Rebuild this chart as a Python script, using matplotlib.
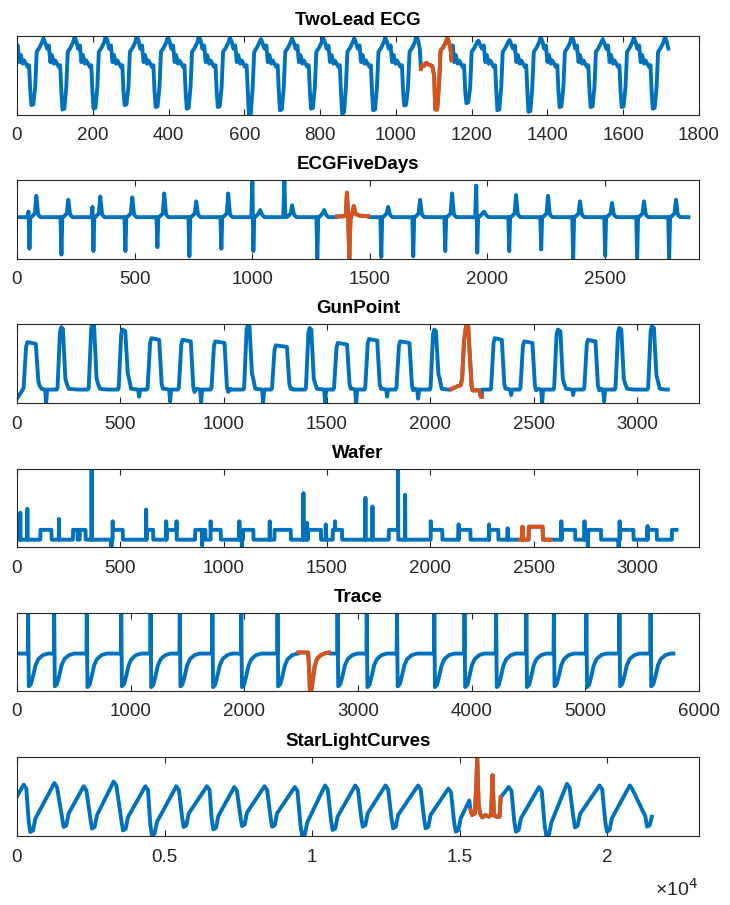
import numpy as np
import matplotlib
matplotlib.use("Agg")
import matplotlib.pyplot as plt

plt.rcParams["font.family"] = ["Liberation Sans", "DejaVu Sans"]

BLUE = "#0072BD"
ORANGE = "#D95319"
DARK = "#262626"

# ---------------- TwoLead ECG: 21 beats of 82 samples, beat 13 highlighted
ecg_len = 82
ecg_hl = 13
ecg_off = [0, 2, 6, 10, 15, 19, 28, 32, 35, 38, 43, 48, 52, 59, 66, 70, 75, 79]
ecg_lvl = [84, 88, 67, 76, 65, 69, 61, 63, 30, 0, 0, 35, 80, 85, 92, 0, 0, 84]  # 9-10 trough, 15-16 peak
ecg_trough = [12.5, 7, 8, 12.5, 10, 8, 10, 0, 6, 8, 2, 6, 12, 7, 15, 6, 4, 10, 10, 10, 8]
ecg_peak = [97, 99, 100, 100, 99, 100, 98, 96, 97, 98, 97, 98, 100, 98, 94, 95, 99, 100, 96, 98, 99]
ecg_hl_off = [0, 4, 8, 14, 20, 30, 35, 38, 43, 48, 52, 58, 64, 70, 75, 78, 81]
ecg_hl_val = [58, 64, 62, 66, 64, 62, 50, 7, 7, 40, 82, 85, 90, 98, 90, 85, 69]
ecg_ticks = [0, 200, 400, 600, 800, 1000, 1200, 1400, 1600, 1800]

# ---------------- ECGFiveDays: 21 beats of 136 samples, beat 10 highlighted
efd_len = 136
efd_hl = 10
efd_off = [0, 44, 49, 53, 57, 64, 76, 82, 90, 100, 135]
efd_lvl = [53, 53, 0, 0, 53, 54, 58, 0, 56, 53, 53]  # idx 2 up spike, 3 down spike, 7 T wave
efd_up = [60, 53, 66, 53, 53, 53, 53, 98, 100, 53, 0, 53, 53, 53, 93, 53, 53, 53, 53, 53, 53]
efd_down = [13, 5.5, 10, 10, 15, 3.4, 13, 10, 53, 1, 0, 2.5, 3.4, 10, 8, 10, 12, 0, 4, 1, 0]
efd_t = [80, 75, 79, 78, 83, 73, 83, 62, 68, 62, 0, 66, 75, 83, 60, 81, 80, 73, 71, 73, 75]
efd_hl_off = [0, 30, 38, 43, 48, 53, 58, 64, 72, 80, 95, 135]
efd_hl_val = [54, 54, 55, 84, 54, 0, 50, 56, 67, 57, 55, 54]
efd_ticks = [0, 500, 1000, 1500, 2000, 2500]

# ---------------- GunPoint: 21 samples of 150, sample 14 highlighted
gun_len = 150
gun_hl = 14
gun_start = [5.5, 17, 17, 17, 17, 17, 17, 17, 17, 17, 17, 17, 17, 17, 17, 17, 17, 17, 17, 17, 17]
gun_rise = [32, 46, 47, 42, 32, 33, 41, 49, 34, 48, 34, 35, 36, 51, 0, 44, 36, 49, 45, 46, 54]
gun_top = [77, 96, 100, 93, 82, 80, 78, 99, 73, 95, 76, 81, 78, 93, 0, 82, 78, 93, 80, 95, 97]
gun_hold = [41, 8, 8, 14, 38, 40, 45, 8, 54, 8, 45, 40, 45, 8, 0, 34, 40, 12, 36, 10, 10]
gun_after = [22, 25, 25, 31, 18, 14, 14, 31, 18, 25, 18, 18, 16, 31, 0, 18, 16, 25, 16, 25, 29]
gun_dip = [0.4, 17, 17, 8, 2, 1, 17, 0, 17, 1, 0, 8, 5.5, 17, 0, 10, 0, 10, 2, 17, 17]
gun_hl_off = [0, 36, 47, 54, 63, 74, 83, 93, 99, 104, 138, 144, 149]
gun_hl_val = [17.5, 21.7, 22.5, 31, 78, 100, 97, 52, 22.5, 16, 16, 7.7, 7.7]
gun_ticks = [0, 500, 1000, 1500, 2000, 2500, 3000]

# ---------------- Wafer: 21 samples of 152, sample 16 highlighted
waf_len = 152
waf_hl = 16
waf_lo = 9.4
waf_hi = 22
waf_high = [
    [(0, 8), (113, 152)], [(0, 15), (119, 141)], [(0, 28)], [(7, 56)],
    [(20, 51), (116, 152)], [(0, 12), (102, 152)], [(25, 74)], [(30, 80)],
    [(30, 109)], [(40, 103)], [(8, 53)], [(127, 152)], [(0, 20)], [(26, 82)],
    [(10, 66)], [(5, 49)], [], [(52, 117)], [(28, 90)], [(30, 95)],
    [(12, 56), (129, 152)],
]
waf_spikes = [
    [(16, 44), (50, 49)], [(51, 36)], [(57, 100)], [(1, 0), (7, 33)],
    [(17, 48), (114, 33)], [(12, 33), (136, 2)], [(25, 33)], [(12, 33), (24, 0)],
    [(7, 33)], [(18, 69), (36, 31), (126, 29)], [(19, 33)], [(14, 63), (48, 52)],
    [(20, 100), (54, 67)], [(26, 33)], [(9, 29)], [(4, 29), (94, 24)], [],
    [(50, 33)], [(10, 33), (26, 0)], [(23, 0), (28, 33)], [(11, 27)],
]
waf_hl_off = [0, 12, 14, 16, 43, 45, 111, 113, 151]
waf_hl_val = [9.4, 9.4, 26, 9.4, 9.4, 26, 26, 9.4, 9.4]
waf_ticks = [0, 500, 1000, 1500, 2000, 2500, 3000]

# ---------------- Trace: 21 samples of 275, sample 9 highlighted
trc_len = 275
trc_hl = 9
trc_spike = [98, 52, 64, 92, 75, 57, 69, 48, 92, 0, 70, 52, 43, 96, 87, 90, 81, 48, 59, 75, 74]
trc_top = [99, 99, 99, 99, 99, 99, 99, 99, 99, 0, 99, 99, 99, 100, 99, 99, 99, 99, 99, 99, 99]
trc_bot = [6, 6, 5, 6, 5, 6, 5, 5, 6, 0, 6, 5, 6, 5, 5, 5, 5, 6, 5, 6, 6]
trc_hl_off = [0, 86, 94, 102, 115, 127, 143, 164, 197, 238, 270]
trc_hl_val = [49.4, 49.4, 31, 0, 1.3, 14, 31, 41, 46, 48.5, 49.4]
trc_ticks = [0, 1000, 2000, 3000, 4000, 5000, 6000]

# ---------------- StarLightCurves: 21 samples of 1024, sample 15 highlighted
star_len = 1024
star_hl = 15
star_peak_x = [226, 1264, 2258, 3274, 4347, 5397, 6435, 7360, 8384, 9409, 10433, 11458,
               12482, 13585, 14610, 16658, 17683, 18628, 19732, 20756]
star_peak_y = [65, 67, 63, 69, 63, 63, 63, 62, 63, 62, 64, 64, 64, 64, 60, 62, 62, 66, 64, 64]
star_trough_x = [452, 1580, 2540, 3590, 4572, 5645, 6650, 7620, 8640, 9660, 10690, 11710,
                 12740, 13840, 14860, 16900, 17930, 18900, 19980, 21339]
star_trough_y = [5, 11.5, 9.4, 7, 1, 11.5, 8.4, 12.6, 11.8, 0, 7.6, 11.8, 9.7, 9.7, 5.5,
                 5.5, 0, 10.9, 5.5, 11.8]
star_hl_x = [15360, 15413, 15508, 15555, 15587, 15634, 15681, 15760, 15870, 15980, 16059,
             16107, 16154, 16233, 16343, 16383]
star_hl_y = [32.8, 26.5, 28.6, 62, 100, 41, 28.6, 23.5, 26.5, 24.4, 26.5, 77, 26.5, 24.4,
             24.4, 49]
star_ticks = [0, 5000, 10000, 15000, 20000]
star_labels = ["0", "0.5", "1", "1.5", "2"]


def assemble(seg_len, segs):
    xs, ys = [], []
    for k, (off, val) in enumerate(segs):
        xs.extend(k * seg_len + np.asarray(off, float))
        ys.extend(val)
    return np.array(xs), np.array(ys, float)


def ecg_seg(k):
    if k == ecg_hl:
        return ecg_hl_off, ecg_hl_val
    v = list(ecg_lvl)
    v[9], v[10] = ecg_trough[k], ecg_trough[k] + 1
    v[15], v[16] = ecg_peak[k], ecg_peak[k] - 6
    return ecg_off, v


def efd_seg(k):
    if k == efd_hl:
        return efd_hl_off, efd_hl_val
    v = list(efd_lvl)
    v[2] = efd_up[k]
    v[3] = efd_down[k]
    v[7] = efd_t[k]
    return efd_off, v


def gun_seg(k):
    if k == gun_hl:
        return gun_hl_off, gun_hl_val
    rs, top, w, aft = gun_rise[k], gun_top[k], gun_hold[k], gun_after[k]
    off = [0, rs - 4, rs, rs + 12, rs + 18, rs + 18 + w, rs + 30 + w,
           rs + 36 + w, rs + 46 + w, 136, 141, 146, 149]
    val = [gun_start[k], 17, 19, top - 6, top, top - 2, aft + 6, aft, 18,
           17, gun_dip[k], 17, 17]
    return off, val


def waf_seg(k):
    if k == waf_hl:
        return waf_hl_off, waf_hl_val
    ints = waf_high[k]

    def level(o):
        return waf_hi if any(a <= o < b for a, b in ints) else waf_lo

    pts = [(0, level(0))]
    for a, b in ints:
        if a > 0:
            pts += [(a - 0.5, waf_lo), (a + 0.5, waf_hi)]
        if b < 151:
            pts += [(b - 0.5, waf_hi), (b + 0.5, waf_lo)]
    for o, v in waf_spikes[k]:
        pts += [(o - 1, level(o - 1)), (o, v), (o + 1, level(o + 1))]
    pts.append((151, level(151)))
    pts.sort(key=lambda p: p[0])
    return [p[0] for p in pts], [p[1] for p in pts]


def trc_seg(k):
    if k == trc_hl:
        return trc_hl_off, trc_hl_val
    s, b = trc_spike[k], trc_bot[k]
    off = [0, s - 3, s, s + 6, s + 25, s + 45, s + 65, s + 90, s + 130, s + 175, 274]
    val = [48, 48, trc_top[k], b, b + 3, 20, 33, 41, 46, 48, 48]
    return off, val


def star_series():
    pts = [(0, 50)]
    n = len(star_peak_x)
    for i in range(n):
        px, py = star_peak_x[i], star_peak_y[i]
        tx, ty = star_trough_x[i], star_trough_y[i]
        # rounded crest, steep fall, flat-ish trough, then the slow climb
        pts += [(px, py), (px + 90, py - 5), (tx - 56, ty + 13), (tx, ty), (tx + 90, ty + 2)]
        if i < n - 1:
            pts.append((tx + 170, ty + 17))
        if i == 14:
            pts.append((15319, 45))
            pts += list(zip(star_hl_x, star_hl_y))
    pts.append((21504, 24.4))
    return np.array([p[0] for p in pts], float), np.array([p[1] for p in pts], float)


panels = [
    ("TwoLead ECG", assemble(ecg_len, [ecg_seg(k) for k in range(21)]),
     ecg_len, ecg_hl, 1800, ecg_ticks, [str(t) for t in ecg_ticks]),
    ("ECGFiveDays", assemble(efd_len, [efd_seg(k) for k in range(21)]),
     efd_len, efd_hl, 2900, efd_ticks, [str(t) for t in efd_ticks]),
    ("GunPoint", assemble(gun_len, [gun_seg(k) for k in range(21)]),
     gun_len, gun_hl, 3300, gun_ticks, [str(t) for t in gun_ticks]),
    ("Wafer", assemble(waf_len, [waf_seg(k) for k in range(21)]),
     waf_len, waf_hl, 3300, waf_ticks, [str(t) for t in waf_ticks]),
    ("Trace", assemble(trc_len, [trc_seg(k) for k in range(21)]),
     trc_len, trc_hl, 6000, trc_ticks, [str(t) for t in trc_ticks]),
    ("StarLightCurves", star_series(),
     star_len, star_hl, 23100, star_ticks, star_labels),
]

fig = plt.figure(figsize=(7.3, 9.05), dpi=100)
tops = [36, 180, 324, 469, 613, 757]
bots = [115, 259, 403, 547, 691, 836]

for i, (title, (x, y), seg_len, hl, xmax, ticks, labels) in enumerate(panels):
    ax = fig.add_axes([17 / 730, 1 - bots[i] / 905, 682 / 730, (bots[i] - tops[i]) / 905])
    ax.plot(x, y, color=BLUE, lw=2.8, solid_joinstyle="round")
    m = (x >= hl * seg_len) & (x < (hl + 1) * seg_len)
    ax.plot(x[m], y[m], color=ORANGE, lw=2.8, solid_joinstyle="round")
    ax.set_xlim(0, xmax)
    ax.set_ylim(y.min(), y.max())
    ax.set_yticks([])
    ax.set_xticks(ticks)
    ax.set_xticklabels(labels)
    ax.tick_params(axis="x", direction="in", top=True, length=4, width=0.8,
                   color=DARK, labelcolor=DARK, labelsize=13.5, pad=9)
    for s in ax.spines.values():
        s.set_color(DARK)
        s.set_linewidth(0.8)
    ax.set_title(title, fontsize=13.5, fontweight="bold", pad=8)

fig.text(698 / 730, 1 - 896 / 905, "×10$^{4}$", ha="right", va="baseline",
         fontsize=14, color=DARK)

fig.savefig("out.png", dpi=100)
